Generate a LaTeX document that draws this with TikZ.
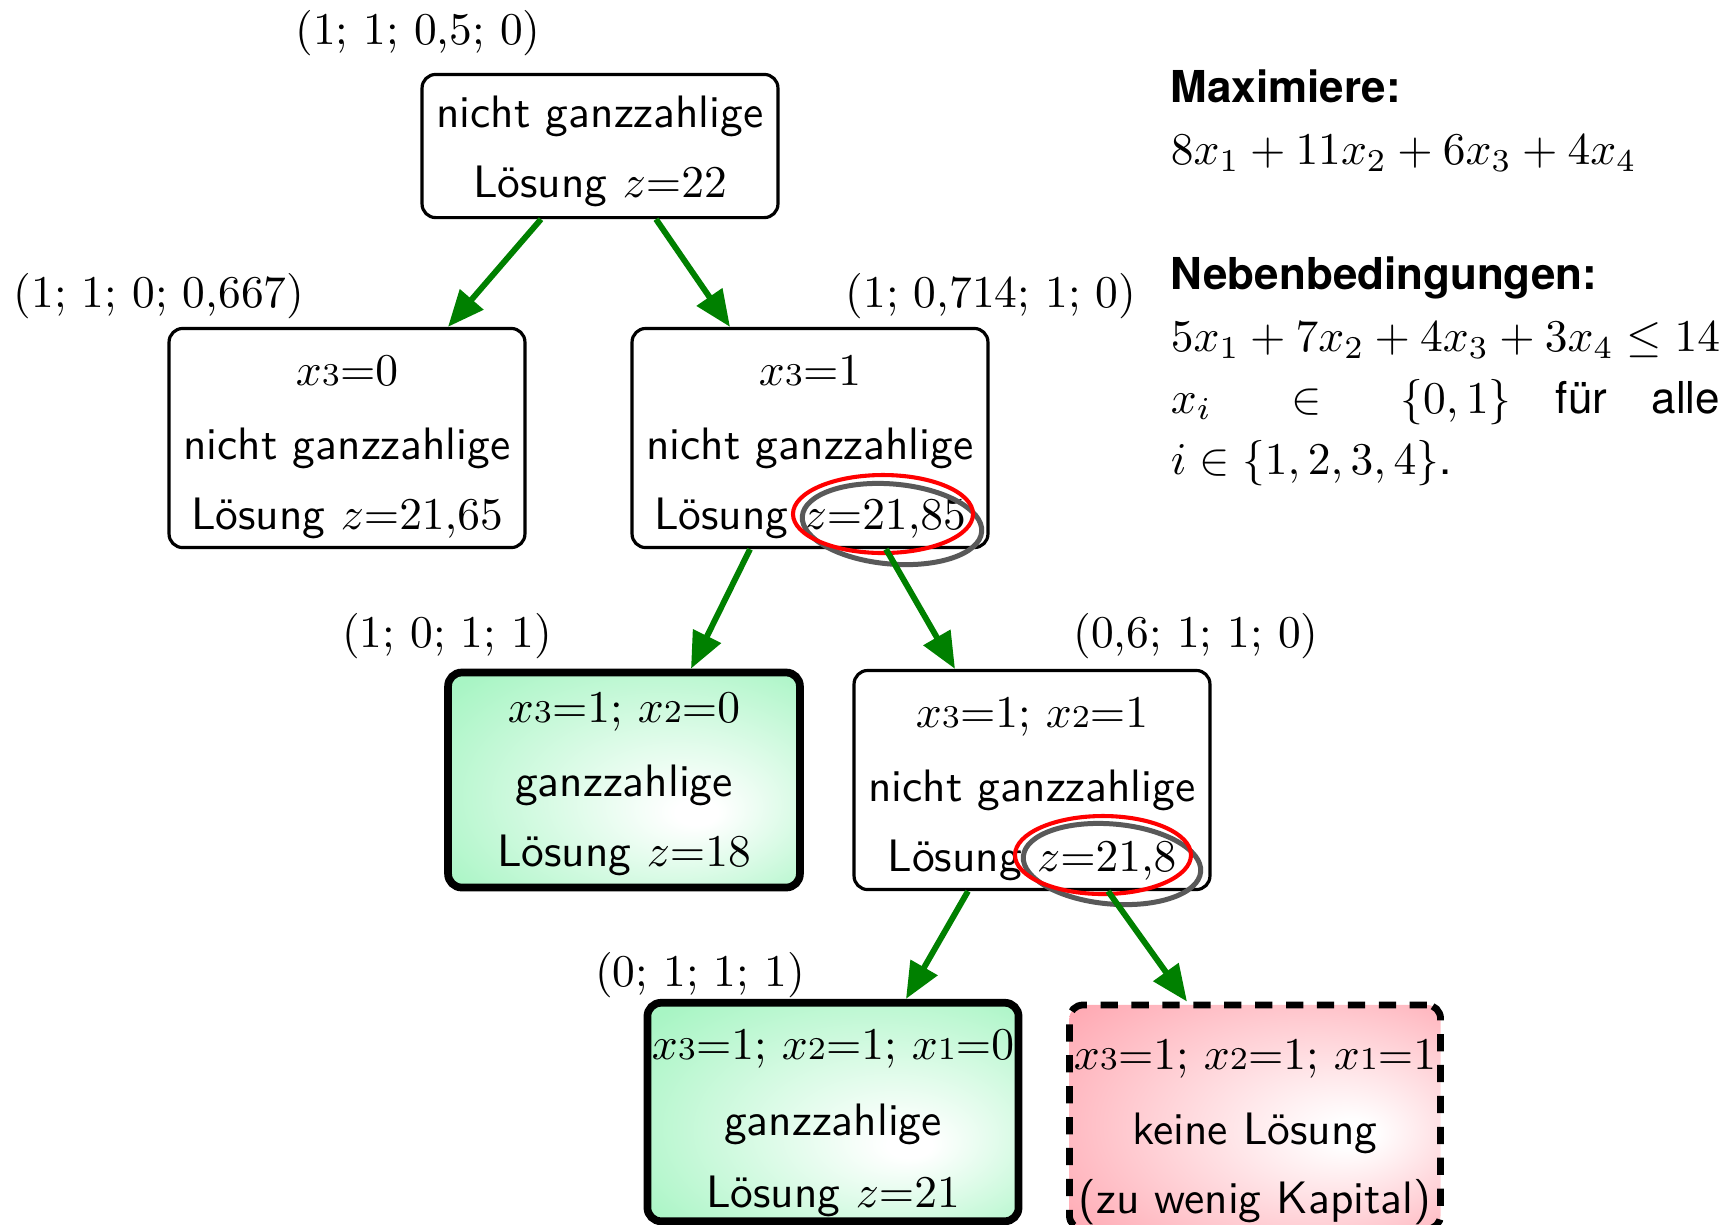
\documentclass[tikz,border=0pt]{standalone}
\usepackage{fontspec}
\usepackage{amsmath}
\usepackage{amssymb}
\newfontfamily\helv[Scale=0.93]{TeX Gyre Heros}
\usetikzlibrary{calc,arrows.meta}
\definecolor{gruen}{RGB}{168,245,196}
\definecolor{rosa}{RGB}{255,168,178}
\pgfdeclareradialshading{gruenkugel}{\pgfqpoint{11bp}{-8bp}}{color(0bp)=(white); color(3bp)=(white); color(36bp)=(gruen); color(50bp)=(gruen)}
\pgfdeclareradialshading{rosakugel}{\pgfqpoint{14bp}{-4bp}}{color(0bp)=(white); color(3bp)=(white); color(38bp)=(rosa); color(50bp)=(rosa)}
\newcommand{\xs}[1]{x{\scriptstyle #1}}

\begin{document}
\begin{tikzpicture}[x=0.22pt,y=0.22pt,yscale=-1,
    box/.style={draw,line width=0.7pt,rounded corners=3pt,align=center,font=\sffamily,inner sep=1pt,minimum width=78.3pt,minimum height=48.2pt},
    ganz/.style={box,line width=1.7pt,shade,shading=gruenkugel},
    unzul/.style={box,line width=1.5pt,dash pattern=on 3.8pt off 3pt,shade,shading=rosakugel},
    wert/.style={inner sep=0pt},
    pfeil/.style={draw=green!50!black,line width=1.3pt,-{Triangle[length=8pt,width=6.6pt]}},
    rotkreis/.style={draw=red,line width=0.9pt},
    graukreis/.style={draw=black!65,line width=1.1pt}]
  \useasboundingbox (0,0) rectangle (1734,1224);
  % Knoten
  \node[box,minimum height=31.5pt] (wurzel) at (600,146) {\rule{0pt}{9.4pt}nicht ganzzahlige\\[3.3pt]L\"osung $z{=}22$};
  \node[box] (links) at (347,438) {\rule{0pt}{10.6pt}$\xs{3}{=}0$\\[4.3pt]nicht ganzzahlige\\[3.5pt]L\"osung $z{=}21{,}65$};
  \node[box] (rechts) at (810,438) {\rule{0pt}{10.6pt}$\xs{3}{=}1$\\[4.3pt]nicht ganzzahlige\\[3.5pt]L\"osung $z{=}21{,}85$};
  \node[ganz,minimum width=77.4pt,minimum height=47.3pt] (ganzA) at (624,780) {\rule{0pt}{8.5pt}$\xs{3}{=}1{;}\ \xs{2}{=}0$\\[4.3pt]ganzzahlige\\[3.5pt]L\"osung $z{=}18$};
  \node[box] (rechtsB) at (1032,780) {\rule{0pt}{10.6pt}$\xs{3}{=}1{;}\ \xs{2}{=}1$\\[4.3pt]nicht ganzzahlige\\[3.5pt]L\"osung $z{=}21{,}8$};
  \node[ganz,minimum width=81.6pt,minimum height=46.6pt] (ganzB) at (833,1112) {\rule{0pt}{11.5pt}$\xs{3}{=}1{;}\ \xs{2}{=}1{;}\ \xs{1}{=}0$\\[4.6pt]ganzzahlige\\[3.9pt]L\"osung $z{=}21$};
  \node[unzul,minimum width=80.7pt,minimum height=45.1pt] (keine) at (1255,1117) {\rule{0pt}{13.2pt}$\xs{3}{=}1{;}\ \xs{2}{=}1{;}\ \xs{1}{=}1$\\[4.6pt]keine L\"osung\\[3pt](zu wenig Kapital)};
  % Werte der Variablen
  \node[wert] (wWurzel) at (418,33) {(1; 1; 0,5; 0)};
  \node[wert] (wLinks) at (159,296) {(1; 1; 0; 0,667)};
  \node[wert] (wRechts) at (991,296) {(1; 0,714; 1; 0)};
  \node[wert] (wGanzA) at (447,636) {(1; 0; 1; 1)};
  \node[wert] (wRechtsB) at (1196,636) {(0,6; 1; 1; 0)};
  \node[wert] (wGanzB) at (700,975) {(0; 1; 1; 1)};
  % Markierungen
  \draw[graukreis] (892,524) ellipse [x radius=90,y radius=40,rotate=5];
  \draw[rotkreis] (883,514) ellipse [x radius=90,y radius=39];
  \draw[graukreis] (1112,864) ellipse [x radius=89,y radius=40,rotate=5];
  \draw[rotkreis] (1103,855) ellipse [x radius=88,y radius=39];
  % Pfeile
  \draw[pfeil] ($(wurzel.south)+(-59,0)$) -- ($(links.north)+(101,0)$);
  \draw[pfeil] ($(wurzel.south)+(56,0)$) -- ($(rechts.north)+(-80,0)$);
  \draw[pfeil] ($(rechts.south)+(-60,0)$) -- ($(ganzA.north)+(67,0)$);
  \draw[pfeil] ($(rechts.south)+(76,0)$) -- ($(rechtsB.north)+(-77,0)$);
  \draw[pfeil] ($(rechtsB.south)+(-64,0)$) -- ($(ganzB.north)+(73,0)$);
  \draw[pfeil] ($(rechtsB.south)+(76,0)$) -- ($(keine.north)+(-68,0)$);
  % Modell
  \node[anchor=north west,inner sep=0pt,text width=120.8pt,align=justify,font={\fontsize{10.4}{13.6}\selectfont\helv}] (modell) at (1170,69)
    {\textbf{Maximiere:}\\ $8x_1+11x_2+6x_3+4x_4$\\[13.9pt]
     \textbf{Nebenbedingungen:}\\ $5x_1+7x_2+4x_3+3x_4\leq 14$\linebreak $x_i\in\{0,1\}$ f\"ur alle ${i\in\{1,2,3,4\}}$.};
\end{tikzpicture}
\end{document}
